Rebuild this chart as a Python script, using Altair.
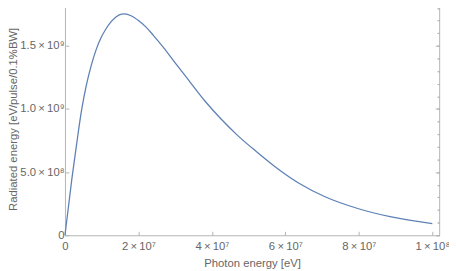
import altair as alt
import pandas as pd

# Data
photon_energy = [0, 1.86e6, 3.18e6, 4.51e6, 5.84e6, 7.16e6, 8.49e6, 9.81e6, 1.114e7, 1.247e7,
                 1.379e7, 1.54e7, 1.62e7, 1.8e7, 2.0e7, 2.2e7, 2.4e7, 2.7e7, 3.0e7, 3.4e7,
                 3.81e7, 4.25e7, 4.69e7, 5.2e7, 5.71e7, 6.37e7, 7.08e7, 7.97e7, 8.85e7, 1.0e8]
radiated = [0, 4.43e8, 7.23e8, 9.88e8, 1.19e9, 1.345e9, 1.47e9, 1.563e9, 1.633e9, 1.687e9,
            1.726e9, 1.750e9, 1.752e9, 1.738e9, 1.70e9, 1.65e9, 1.585e9, 1.48e9, 1.365e9, 1.215e9,
            1.063e9, 9.2e8, 7.93e8, 6.65e8, 5.45e8, 4.12e8, 3.05e8, 2.12e8, 1.47e8, 9.3e7]

T = "\u2009"
x_major = [0, 2e7, 4e7, 6e7, 8e7, 1e8]
x_major_labels = ["0", f"2{T}×{T}10⁷", f"4{T}×{T}10⁷", f"6{T}×{T}10⁷", f"8{T}×{T}10⁷", f"1{T}×{T}10⁸"]
x_minor = [i * 5e6 for i in range(21)]
y_major = [0, 5e8, 1e9, 1.5e9]
y_major_labels = ["0", f"5.0{T}×{T}10⁸", f"1.0{T}×{T}10⁹", f"1.5{T}×{T}10⁹"]
y_minor = [i * 1e8 for i in range(19)]

df = pd.DataFrame({"x": photon_energy, "y": radiated})

FRAME = "#b4b4b4"
TEXT = "#666666"
FONT = "Liberation Sans"


def label_expr(values, labels):
    expr = "''"
    for v, l in reversed(list(zip(values, labels))):
        expr = f"abs(datum.value - {v}) < 1 ? '{l}' : ({expr})"
    return expr


xscale = alt.Scale(domain=[0, 1.0187e8], nice=False, zero=False)
yscale = alt.Scale(domain=[0, 1.843e9], nice=False, zero=False)

common_axis = dict(grid=False, domain=False, tickColor=FRAME, tickWidth=1,
                   labelColor=TEXT, labelFont=FONT, labelFontSize=11.5,
                   titleColor=TEXT, titleFont=FONT, titleFontSize=11.5,
                   titleFontWeight="normal")

main = alt.Chart(df).mark_line(color="#5E81B5", strokeWidth=1.3, interpolate="monotone").encode(
    x=alt.X("x:Q", scale=xscale,
            axis=alt.Axis(values=x_major, labelExpr=label_expr(x_major, x_major_labels),
                          tickSize=4, offset=-4, labelPadding=5, title="Photon energy [eV]",
                          titlePadding=6, labelFlush=False, labelOverlap=False, **common_axis)),
    y=alt.Y("y:Q", scale=yscale,
            axis=alt.Axis(values=y_major, labelExpr=label_expr(y_major, y_major_labels),
                          tickSize=4, offset=-4, labelPadding=1,
                          title="Radiated energy [eV/pulse/0.1%BW]", titlePadding=1,
                          labelFlush=False, labelOverlap=False, **common_axis)),
)

minor_bl = alt.Chart(df).mark_line(opacity=0).encode(
    x=alt.X("x:Q", scale=xscale,
            axis=alt.Axis(values=x_minor, labels=False, title=None, tickSize=2, offset=-2,
                          **common_axis)),
    y=alt.Y("y:Q", scale=yscale,
            axis=alt.Axis(values=y_minor, labels=False, title=None, tickSize=2, offset=-2,
                          **common_axis)),
)

major_tr = alt.Chart(df).mark_line(opacity=0).encode(
    x=alt.X("x:Q", scale=xscale,
            axis=alt.Axis(orient="top", values=x_major, labels=False, title=None, tickSize=4,
                          offset=-4, **common_axis)),
    y=alt.Y("y:Q", scale=yscale,
            axis=alt.Axis(orient="right", values=y_major, labels=False, title=None, tickSize=4,
                          offset=-4, **common_axis)),
)

minor_tr = alt.Chart(df).mark_line(opacity=0).encode(
    x=alt.X("x:Q", scale=xscale,
            axis=alt.Axis(orient="top", values=x_minor, labels=False, title=None, tickSize=2,
                          offset=-2, **common_axis)),
    y=alt.Y("y:Q", scale=yscale,
            axis=alt.Axis(orient="right", values=y_minor, labels=False, title=None, tickSize=2,
                          offset=-2, **common_axis)),
)

chart = alt.layer(main, minor_bl, major_tr, minor_tr).resolve_axis(
    x="independent", y="independent"
).properties(
    width=381, height=237,
    autosize=alt.AutoSizeParams(type="none"),
    padding={"left": 58, "top": -8, "right": 10, "bottom": 34},
    background="white",
).configure_view(stroke=FRAME, strokeWidth=1)

chart.save("out.html", embed_options={"renderer": "svg", "actions": False})
